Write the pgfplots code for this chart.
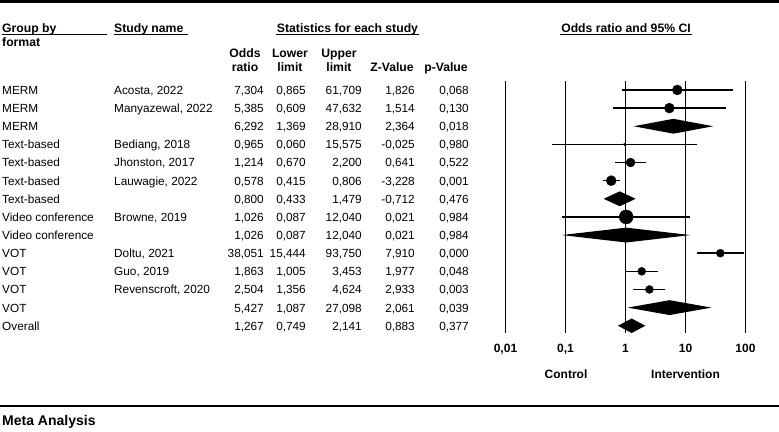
\documentclass[border=0pt]{standalone}
\usepackage{pgfplots}
\pgfplotsset{compat=1.18}
\usepackage{fontspec}
\setmainfont{Liberation Sans}
\newcommand\reg{\fontsize{11.8}{14}\selectfont}
\newcommand\hdr{\fontsize{12.2}{14}\selectfont\bfseries}
\newcommand\datarow[8]{%
  \pgfmathsetmacro\yy{94.4+18.137*#1}%
  \node[anchor=base west] at (2,\yy) {#2};
  \node[anchor=base west] at (114,\yy) {#3};
  \node[anchor=base east] at (264,\yy) {#4};
  \node[anchor=base east] at (306,\yy) {#5};
  \node[anchor=base east] at (362,\yy) {#6};
  \node[anchor=base east] at (415,\yy) {#7};
  \node[anchor=base east] at (469,\yy) {#8};
}
\begin{document}
\begin{tikzpicture}
\path[use as bounding box] (0,0) rectangle (779pt,-431pt);
\begin{scope}[x=1pt,y=-1pt, every node/.style={inner sep=0pt, font=\reg}]
  % frame lines
  \fill (0,0) rectangle (779,2.7);
  \fill (0,404.9) rectangle (779,407.2);
  % headers
  \node[anchor=base west, font=\hdr] at (2,32) {Group by};
  \node[anchor=base west, font=\hdr] at (2,46.4) {format};
  \node[anchor=base west, font=\hdr] at (114,32) {Study name};
  \node[anchor=base, font=\hdr] at (347.5,32) {Statistics for each study};
  \node[anchor=base, font=\hdr] at (626,32) {Odds ratio and 95\% CI};
  \draw[line width=1pt] (2,34) -- (107,34);
  \draw[line width=1pt] (114,34) -- (188,34);
  \draw[line width=1pt] (276,34) -- (419,34);
  \draw[line width=1pt] (560,34) -- (692,34);
  \node[anchor=base, font=\hdr] at (245,57) {Odds};
  \node[anchor=base, font=\hdr] at (245,71) {ratio};
  \node[anchor=base, font=\hdr] at (290,57) {Lower};
  \node[anchor=base, font=\hdr] at (290,71) {limit};
  \node[anchor=base, font=\hdr] at (339,57) {Upper};
  \node[anchor=base, font=\hdr] at (339,71) {limit};
  \node[anchor=base, font=\hdr] at (392,71) {Z-Value};
  \node[anchor=base, font=\hdr] at (446,71) {p-Value};
  % data rows
  \datarow{0}{MERM}{Acosta, 2022}{7,304}{0,865}{61,709}{1,826}{0,068}
  \datarow{1}{MERM}{Manyazewal, 2022}{5,385}{0,609}{47,632}{1,514}{0,130}
  \datarow{2}{MERM}{}{6,292}{1,369}{28,910}{2,364}{0,018}
  \datarow{3}{Text-based}{Bediang, 2018}{0,965}{0,060}{15,575}{-0,025}{0,980}
  \datarow{4}{Text-based}{Jhonston, 2017}{1,214}{0,670}{2,200}{0,641}{0,522}
  \datarow{5}{Text-based}{Lauwagie, 2022}{0,578}{0,415}{0,806}{-3,228}{0,001}
  \datarow{6}{Text-based}{}{0,800}{0,433}{1,479}{-0,712}{0,476}
  \datarow{7}{Video conference}{Browne, 2019}{1,026}{0,087}{12,040}{0,021}{0,984}
  \datarow{8}{Video conference}{}{1,026}{0,087}{12,040}{0,021}{0,984}
  \datarow{9}{VOT}{Doltu, 2021}{38,051}{15,444}{93,750}{7,910}{0,000}
  \datarow{10}{VOT}{Guo, 2019}{1,863}{1,005}{3,453}{1,977}{0,048}
  \datarow{11}{VOT}{Revenscroft, 2020}{2,504}{1,356}{4,624}{2,933}{0,003}
  \datarow{12}{VOT}{}{5,427}{1,087}{27,098}{2,061}{0,039}
  \datarow{13}{Overall}{}{1,267}{0,749}{2,141}{0,883}{0,377}
  % footer labels
  \node[anchor=base, font={\fontsize{12}{14}\selectfont\bfseries}] at (566,378.6) {Control};
  \node[anchor=base, font={\fontsize{12}{14}\selectfont\bfseries}] at (685.5,378.6) {Intervention};
  \node[anchor=base west, font={\fontsize{14}{16}\selectfont\bfseries}] at (2,425.6) {Meta Analysis};
\end{scope}
\begin{axis}[
  at={(505.5pt,-333pt)}, anchor=south west,
  scale only axis, width=240pt, height=252.1pt,
  xmode=log, xmin=0.01, xmax=100,
  ymin=-0.5, ymax=13.4, y dir=reverse,
  axis line style={draw=none},
  major tick length=0pt, minor tick length=0pt,
  tick style={draw=none}, xminorgrids=false,
  ytick=\empty, xtick={0.01,0.1,1,10,100},
  minor xtick={},
  xticklabels={{0,01},{0,1},1,10,100},
  xmajorgrids,
  major grid style={draw=black, line width=1.6pt},
  xticklabel style={font={\fontsize{12}{14}\selectfont\bfseries}, anchor=base, yshift=-19pt, inner sep=0pt},
  clip=false,
]
% confidence intervals of single studies
\addplot[black, line width=1.6pt] coordinates {(0.865,0) (61.709,0)};
\addplot[black, line width=1.6pt] coordinates {(0.609,1) (47.632,1)};
\addplot[black, line width=1.6pt] coordinates {(0.060,3) (15.575,3)};
\addplot[black, line width=1.6pt] coordinates {(0.670,4) (2.200,4)};
\addplot[black, line width=1.6pt] coordinates {(0.415,5) (0.806,5)};
\addplot[black, line width=1.6pt] coordinates {(0.087,7) (12.040,7)};
\addplot[black, line width=1.6pt] coordinates {(15.444,9) (93.750,9)};
\addplot[black, line width=1.6pt] coordinates {(1.005,10) (3.453,10)};
\addplot[black, line width=1.6pt] coordinates {(1.356,11) (4.624,11)};
% point estimates
\addplot[only marks, mark=*, mark size=5pt, mark options={draw=none, fill=black}] coordinates {(7.304,0)};
\addplot[only marks, mark=*, mark size=5pt, mark options={draw=none, fill=black}] coordinates {(5.385,1)};
\addplot[only marks, mark=*, mark size=1.2pt, mark options={draw=none, fill=black}] coordinates {(0.965,3)};
\addplot[only marks, mark=*, mark size=4.5pt, mark options={draw=none, fill=black}] coordinates {(1.214,4)};
\addplot[only marks, mark=*, mark size=5pt, mark options={draw=none, fill=black}] coordinates {(0.578,5)};
\addplot[only marks, mark=*, mark size=7pt, mark options={draw=none, fill=black}] coordinates {(1.026,7)};
\addplot[only marks, mark=*, mark size=4pt, mark options={draw=none, fill=black}] coordinates {(38.051,9)};
\addplot[only marks, mark=*, mark size=4pt, mark options={draw=none, fill=black}] coordinates {(1.863,10)};
\addplot[only marks, mark=*, mark size=4pt, mark options={draw=none, fill=black}] coordinates {(2.504,11)};
% summary diamonds
\addplot[fill=black, draw=none] coordinates {(1.369,2) (6.292,1.59) (28.910,2) (6.292,2.41)} -- cycle;
\addplot[fill=black, draw=none] coordinates {(0.433,6) (0.800,5.59) (1.479,6) (0.800,6.41)} -- cycle;
\addplot[fill=black, draw=none] coordinates {(0.087,8) (1.026,7.59) (12.040,8) (1.026,8.41)} -- cycle;
\addplot[fill=black, draw=none] coordinates {(1.087,12) (5.427,11.59) (27.098,12) (5.427,12.41)} -- cycle;
\addplot[fill=black, draw=none] coordinates {(0.749,13) (1.267,12.6) (2.141,13) (1.267,13.4)} -- cycle;
\end{axis}
\end{tikzpicture}
\end{document}
